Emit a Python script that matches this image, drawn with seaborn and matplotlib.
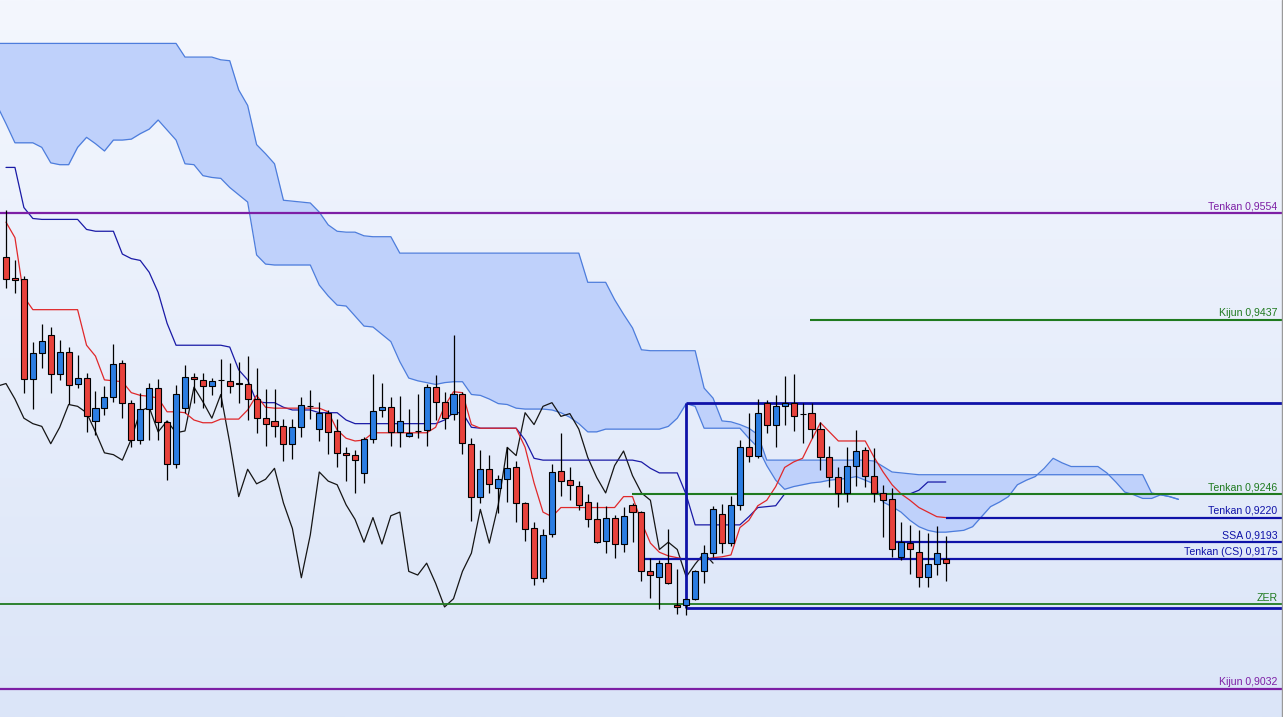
import numpy as np
import matplotlib
matplotlib.use("Agg")
import matplotlib.pyplot as plt
import seaborn as sns
from matplotlib.colors import LinearSegmentedColormap

# ---------------- data ----------------
open_ = [0.9506, 0.9483, 0.9482, 0.9372, 0.9400, 0.9420, 0.9377, 0.9402, 0.9366, 0.9373,
         0.9326, 0.9340, 0.9352, 0.9389, 0.9346, 0.9305, 0.9339, 0.9362, 0.9325, 0.9279,
         0.9340, 0.9374, 0.9371, 0.9364, 0.9371, 0.9370, 0.9367, 0.9367, 0.9350, 0.9329,
         0.9326, 0.9320, 0.9301, 0.9319, 0.9342, 0.9317, 0.9335, 0.9315, 0.9291, 0.9289,
         0.9269, 0.9306, 0.9338, 0.9341, 0.9314, 0.9309, 0.9315, 0.9316, 0.9363, 0.9347,
         0.9334, 0.9355, 0.9301, 0.9243, 0.9273, 0.9252, 0.9262, 0.9275, 0.9236, 0.9209,
         0.9154, 0.9202, 0.9271, 0.9261, 0.9255, 0.9237, 0.9218, 0.9194, 0.9220, 0.9191,
         0.9234, 0.9226, 0.9161, 0.9155, 0.9170, 0.9124, 0.9124, 0.9131, 0.9161, 0.9181,
         0.9224, 0.9192, 0.9234, 0.9297, 0.9288, 0.9346, 0.9322, 0.9342, 0.9346, 0.9334,
         0.9335, 0.9317, 0.9286, 0.9264, 0.9247, 0.9277, 0.9294, 0.9266, 0.9247, 0.9240,
         0.9177, 0.9192, 0.9182, 0.9155, 0.9169, 0.9175]
high = [0.9557, 0.9502, 0.9485, 0.9413, 0.9432, 0.9429, 0.9415, 0.9407, 0.9398, 0.9379,
        0.9359, 0.9364, 0.9410, 0.9393, 0.9349, 0.9357, 0.9368, 0.9372, 0.9326, 0.9365,
        0.9387, 0.9379, 0.9379, 0.9373, 0.9394, 0.9390, 0.9391, 0.9397, 0.9384, 0.9361,
        0.9361, 0.9328, 0.9328, 0.9352, 0.9360, 0.9347, 0.9338, 0.9328, 0.9297, 0.9294,
        0.9308, 0.9377, 0.9368, 0.9352, 0.9353, 0.9339, 0.9355, 0.9366, 0.9376, 0.9358,
        0.9420, 0.9358, 0.9307, 0.9294, 0.9289, 0.9267, 0.9297, 0.9282, 0.9237, 0.9215,
        0.9208, 0.9279, 0.9313, 0.9276, 0.9260, 0.9246, 0.9237, 0.9233, 0.9223, 0.9232,
        0.9236, 0.9227, 0.9176, 0.9174, 0.9208, 0.9164, 0.9131, 0.9162, 0.9190, 0.9233,
        0.9235, 0.9244, 0.9305, 0.9335, 0.9350, 0.9349, 0.9354, 0.9375, 0.9377, 0.9346,
        0.9346, 0.9325, 0.9298, 0.9276, 0.9297, 0.9316, 0.9297, 0.9296, 0.9256, 0.9252,
        0.9215, 0.9212, 0.9206, 0.9203, 0.9211, 0.9200]
low = [0.9472, 0.9466, 0.9357, 0.9339, 0.9384, 0.9357, 0.9371, 0.9345, 0.9362, 0.9314,
       0.9311, 0.9332, 0.9347, 0.9329, 0.9297, 0.9301, 0.9305, 0.9305, 0.9261, 0.9274,
       0.9335, 0.9346, 0.9340, 0.9354, 0.9341, 0.9357, 0.9346, 0.9327, 0.9313, 0.9298,
       0.9308, 0.9282, 0.9284, 0.9308, 0.9328, 0.9304, 0.9290, 0.9276, 0.9260, 0.9247,
       0.9258, 0.9302, 0.9330, 0.9298, 0.9297, 0.9308, 0.9307, 0.9298, 0.9327, 0.9317,
       0.9327, 0.9290, 0.9216, 0.9236, 0.9247, 0.9225, 0.9237, 0.9215, 0.9194, 0.9146,
       0.9149, 0.9199, 0.9244, 0.9239, 0.9228, 0.9210, 0.9192, 0.9181, 0.9176, 0.9182,
       0.9193, 0.9150, 0.9132, 0.9120, 0.9147, 0.9114, 0.9113, 0.9130, 0.9148, 0.9177,
       0.9181, 0.9189, 0.9228, 0.9281, 0.9285, 0.9313, 0.9297, 0.9322, 0.9315, 0.9302,
       0.9307, 0.9272, 0.9254, 0.9232, 0.9237, 0.9255, 0.9254, 0.9237, 0.9199, 0.9177,
       0.9174, 0.9158, 0.9144, 0.9144, 0.9157, 0.9150]
close = [0.9482, 0.9481, 0.9372, 0.9400, 0.9414, 0.9377, 0.9402, 0.9365, 0.9373, 0.9331,
         0.9340, 0.9352, 0.9388, 0.9346, 0.9305, 0.9339, 0.9362, 0.9325, 0.9279, 0.9355,
         0.9374, 0.9372, 0.9364, 0.9370, 0.9371, 0.9364, 0.9367, 0.9350, 0.9329, 0.9323,
         0.9320, 0.9301, 0.9319, 0.9344, 0.9342, 0.9335, 0.9314, 0.9291, 0.9289, 0.9283,
         0.9306, 0.9337, 0.9341, 0.9314, 0.9326, 0.9313, 0.9315, 0.9363, 0.9347, 0.9329,
         0.9355, 0.9302, 0.9243, 0.9273, 0.9257, 0.9262, 0.9274, 0.9236, 0.9208, 0.9154,
         0.9201, 0.9270, 0.9260, 0.9256, 0.9234, 0.9218, 0.9193, 0.9220, 0.9191, 0.9222,
         0.9226, 0.9161, 0.9157, 0.9170, 0.9148, 0.9122, 0.9131, 0.9161, 0.9181, 0.9229,
         0.9192, 0.9234, 0.9297, 0.9288, 0.9335, 0.9322, 0.9342, 0.9346, 0.9331, 0.9334,
         0.9317, 0.9286, 0.9264, 0.9247, 0.9277, 0.9293, 0.9266, 0.9247, 0.9239, 0.9185,
         0.9193, 0.9185, 0.9155, 0.9169, 0.9181, 0.9170]

tenkan = [0.9544, 0.9527, 0.9462, 0.9448, 0.9448, 0.9448, 0.9448, 0.9448, 0.9448, 0.9409,
          0.9397, 0.9371, 0.9370, 0.9369, 0.9357, 0.9354, 0.9353, 0.9351, 0.9336, 0.9336,
          0.9335, 0.9327, 0.9324, 0.9324, 0.9328, 0.9328, 0.9328, 0.9338, 0.9354, 0.9341,
          0.9340, 0.9340, 0.9340, 0.9340, 0.9340, 0.9340, 0.9336, 0.9316, 0.9307, 0.9304,
          0.9305, 0.9313, 0.9313, 0.9313, 0.9313, 0.9313, 0.9313, 0.9313, 0.9319, 0.9342,
          0.9358, 0.9357, 0.9322, 0.9318, 0.9318, 0.9318, 0.9318, 0.9318, 0.9297, 0.9258,
          0.9226, 0.9221, 0.9231, 0.9231, 0.9231, 0.9231, 0.9231, 0.9231, 0.9231, 0.9243,
          0.9243, 0.9215, 0.9192, 0.9182, 0.9178, 0.9176, 0.9174, 0.9174, 0.9174, 0.9176,
          0.9177, 0.9179, 0.9209, 0.9217, 0.9233, 0.9239, 0.9254, 0.9275, 0.9281, 0.9285,
          0.9305, 0.9324, 0.9314, 0.9304, 0.9304, 0.9304, 0.9304, 0.9286, 0.9270, 0.9256,
          0.9246, 0.9239, 0.9231, 0.9226, 0.9221, 0.9220]
kijun = [0.9604, 0.9604, 0.9560, 0.9548, 0.9547, 0.9547, 0.9547, 0.9547, 0.9547, 0.9536,
         0.9534, 0.9534, 0.9534, 0.9509, 0.9504, 0.9502, 0.9489, 0.9467, 0.9433, 0.9409,
         0.9409, 0.9409, 0.9409, 0.9409, 0.9409, 0.9407, 0.9382, 0.9371, 0.9347, 0.9346,
         0.9346, 0.9341, 0.9338, 0.9338, 0.9338, 0.9335, 0.9335, 0.9335, 0.9327, 0.9323,
         0.9323, 0.9323, 0.9323, 0.9323, 0.9323, 0.9323, 0.9323, 0.9323, 0.9323, 0.9327,
         0.9335, 0.9335, 0.9319, 0.9318, 0.9318, 0.9318, 0.9318, 0.9318, 0.9305, 0.9285,
         0.9283, 0.9283, 0.9283, 0.9283, 0.9283, 0.9283, 0.9283, 0.9283, 0.9283, 0.9283,
         0.9283, 0.9281, 0.9274, 0.9269, 0.9269, 0.9269, 0.9245, 0.9212, 0.9212, 0.9212,
         0.9212, 0.9212, 0.9212, 0.9221, 0.9231, 0.9232, 0.9233, 0.9246, 0.9246, 0.9246,
         0.9246, 0.9246, 0.9246, 0.9246, 0.9246, 0.9246, 0.9246, 0.9246, 0.9246, 0.9246,
         0.9246, 0.9246, 0.9250, 0.9259, 0.9259, 0.9259]

# cloud spans, bar -1 .. 131 (displaced 26 bars forward)
span_a = [0.9740, 0.9740, 0.9740, 0.9740, 0.9740, 0.9740, 0.9740, 0.9740, 0.9740, 0.9740,
          0.9740, 0.9740, 0.9740, 0.9740, 0.9740, 0.9740, 0.9740, 0.9740, 0.9740, 0.9740,
          0.9740, 0.9725, 0.9725, 0.9725, 0.9725, 0.9722, 0.9721, 0.9689, 0.9672, 0.9629,
          0.9619, 0.9608, 0.9568, 0.9567, 0.9566, 0.9565, 0.9555, 0.9541, 0.9534, 0.9533,
          0.9533, 0.9529, 0.9528, 0.9528, 0.9528, 0.9510, 0.9510, 0.9510, 0.9510, 0.9510,
          0.9510, 0.9510, 0.9510, 0.9510, 0.9510, 0.9510, 0.9510, 0.9510, 0.9510, 0.9510,
          0.9510, 0.9510, 0.9510, 0.9510, 0.9510, 0.9510, 0.9478, 0.9478, 0.9478, 0.9459,
          0.9443, 0.9428, 0.9404, 0.9403, 0.9403, 0.9403, 0.9403, 0.9403, 0.9403, 0.9362,
          0.9351, 0.9326, 0.9325, 0.9322, 0.9318, 0.9311, 0.9283, 0.9283, 0.9283, 0.9283,
          0.9283, 0.9283, 0.9283, 0.9283, 0.9283, 0.9283, 0.9283, 0.9283, 0.9282, 0.9276,
          0.9270, 0.9269, 0.9268, 0.9267, 0.9267, 0.9267, 0.9267, 0.9267, 0.9267, 0.9267,
          0.9267, 0.9267, 0.9267, 0.9267, 0.9267, 0.9267, 0.9267, 0.9267, 0.9267, 0.9267,
          0.9267, 0.9267, 0.9267, 0.9267, 0.9267, 0.9267, 0.9267, 0.9267, 0.9267, 0.9247,
          0.9245, 0.9243, 0.9240]
span_b = [0.9672, 0.9652, 0.9631, 0.9631, 0.9631, 0.9626, 0.9609, 0.9607, 0.9607, 0.9626,
          0.9637, 0.9630, 0.9622, 0.9634, 0.9634, 0.9635, 0.9641, 0.9646, 0.9656, 0.9645,
          0.9634, 0.9608, 0.9607, 0.9595, 0.9593, 0.9592, 0.9582, 0.9574, 0.9566, 0.9508,
          0.9498, 0.9497, 0.9497, 0.9497, 0.9497, 0.9497, 0.9475, 0.9463, 0.9453, 0.9452,
          0.9441, 0.9430, 0.9429, 0.9421, 0.9413, 0.9391, 0.9373, 0.9370, 0.9368, 0.9366,
          0.9368, 0.9369, 0.9369, 0.9355, 0.9354, 0.9350, 0.9345, 0.9344, 0.9340, 0.9339,
          0.9339, 0.9339, 0.9338, 0.9335, 0.9330, 0.9323, 0.9314, 0.9314, 0.9317, 0.9317,
          0.9317, 0.9317, 0.9317, 0.9317, 0.9317, 0.9320, 0.9329, 0.9345, 0.9342, 0.9318,
          0.9318, 0.9318, 0.9318, 0.9318, 0.9307, 0.9297, 0.9277, 0.9261, 0.9251, 0.9254,
          0.9256, 0.9258, 0.9259, 0.9261, 0.9262, 0.9263, 0.9265, 0.9261, 0.9257, 0.9237,
          0.9232, 0.9226, 0.9217, 0.9210, 0.9206, 0.9204, 0.9204, 0.9205, 0.9206, 0.9210,
          0.9221, 0.9232, 0.9237, 0.9243, 0.9256, 0.9261, 0.9265, 0.9274, 0.9285, 0.9280,
          0.9276, 0.9276, 0.9276, 0.9276, 0.9269, 0.9259, 0.9248, 0.9245, 0.9241, 0.9241,
          0.9245, 0.9243, 0.9240]
chikou_shift = 26

# horizontal levels
level_text = ["Tenkan 0,9554", "Kijun 0,9437", "", "Tenkan 0,9246", "Tenkan 0,9220",
              "SSA 0,9193", "Tenkan (CS) 0,9175", "", "ZER", "Kijun 0,9032"]
level_price = [0.9554, 0.9437, 0.9346, 0.9246, 0.9220, 0.9193, 0.9175, 0.9121, 0.9125, 0.9032]
level_from_bar = [-1, 89.8, 76, 69.9, 105, 99, 71, 76, -1, -1]
box_bar = 76

# ---------------- styling ----------------
PURPLE = "#7d1fa5"
GREEN = "#1f7a1f"
BLUE = "#0f12a8"
level_color = [PURPLE, GREEN, BLUE, GREEN, BLUE, BLUE, BLUE, BLUE, GREEN, PURPLE]
level_lw = [1.6, 1.5, 2.0, 1.5, 1.6, 1.6, 1.6, 2.0, 1.3, 1.6]

sns.set_theme(style="white")
plt.rcParams["font.family"] = ["Liberation Sans", "DejaVu Sans"]

fig = plt.figure(figsize=(12.83, 7.17), dpi=100)
ax = fig.add_axes([0, 0, 1, 1])

X0, X1 = -0.67, 142.68
Y0, Y1 = 0.90013, 0.97876

# background gradient
grad = np.linspace(0, 1, 256).reshape(-1, 1)
bg = LinearSegmentedColormap.from_list("bg", ["#f4f7fe", "#dbe5f8"])
ax.imshow(grad, extent=[X0, X1, Y0, Y1], aspect="auto", cmap=bg, origin="upper", zorder=0)

bars = np.arange(len(close))
cloud_bars = np.arange(-1, -1 + len(span_a))
o = np.array(open_); c = np.array(close); h = np.array(high); l = np.array(low)

# cloud
ax.fill_between(cloud_bars, span_a, span_b, color="#bfd1fb", lw=0, zorder=1)
sns.lineplot(x=cloud_bars, y=span_a, color="#4d7ddc", lw=0.9, ax=ax, zorder=2, estimator=None)
sns.lineplot(x=cloud_bars, y=span_b, color="#4d7ddc", lw=0.9, ax=ax, zorder=2, estimator=None)

# chikou span (close drawn 26 bars back), kijun, tenkan
sns.lineplot(x=bars - chikou_shift, y=close, color="#151515", lw=0.9, ax=ax, zorder=3, estimator=None)
sns.lineplot(x=bars, y=kijun, color="#1a1aa6", lw=0.9, ax=ax, zorder=3, estimator=None)
sns.lineplot(x=bars, y=tenkan, color="#e0282a", lw=0.9, ax=ax, zorder=3, estimator=None)

# levels
for txt, p, xs, col, lw in zip(level_text, level_price, level_from_bar, level_color, level_lw):
    ax.hlines(p, xs, X1, color=col, lw=lw, zorder=4)
    if txt:
        ax.annotate(txt, xy=(1, p), xycoords=("axes fraction", "data"),
                    xytext=(-4, 2.6), textcoords="offset points",
                    ha="right", va="baseline", fontsize=7.6, color=col, zorder=8)
ax.vlines(box_bar, level_price[7], level_price[2], color=BLUE, lw=2.0, zorder=4)

# candles
ax.vlines(bars, l, h, color="black", lw=0.9, zorder=5)
body_col = np.where(c > o, "#2b7de2", np.where(c < o, "#e8423c", "black"))
height = np.maximum(np.abs(c - o), 0.000012)
ax.bar(bars, height, bottom=np.minimum(o, c), width=0.68, color=body_col,
       edgecolor="black", linewidth=0.8, zorder=6)

ax.set_xlim(X0, X1)
ax.set_ylim(Y0, Y1)
ax.axis("off")
fig.add_artist(plt.Line2D([0.9993, 0.9993], [0, 1], transform=fig.transFigure,
                          color="#9a9a9a", lw=1))

fig.savefig("out.png", dpi=100)
